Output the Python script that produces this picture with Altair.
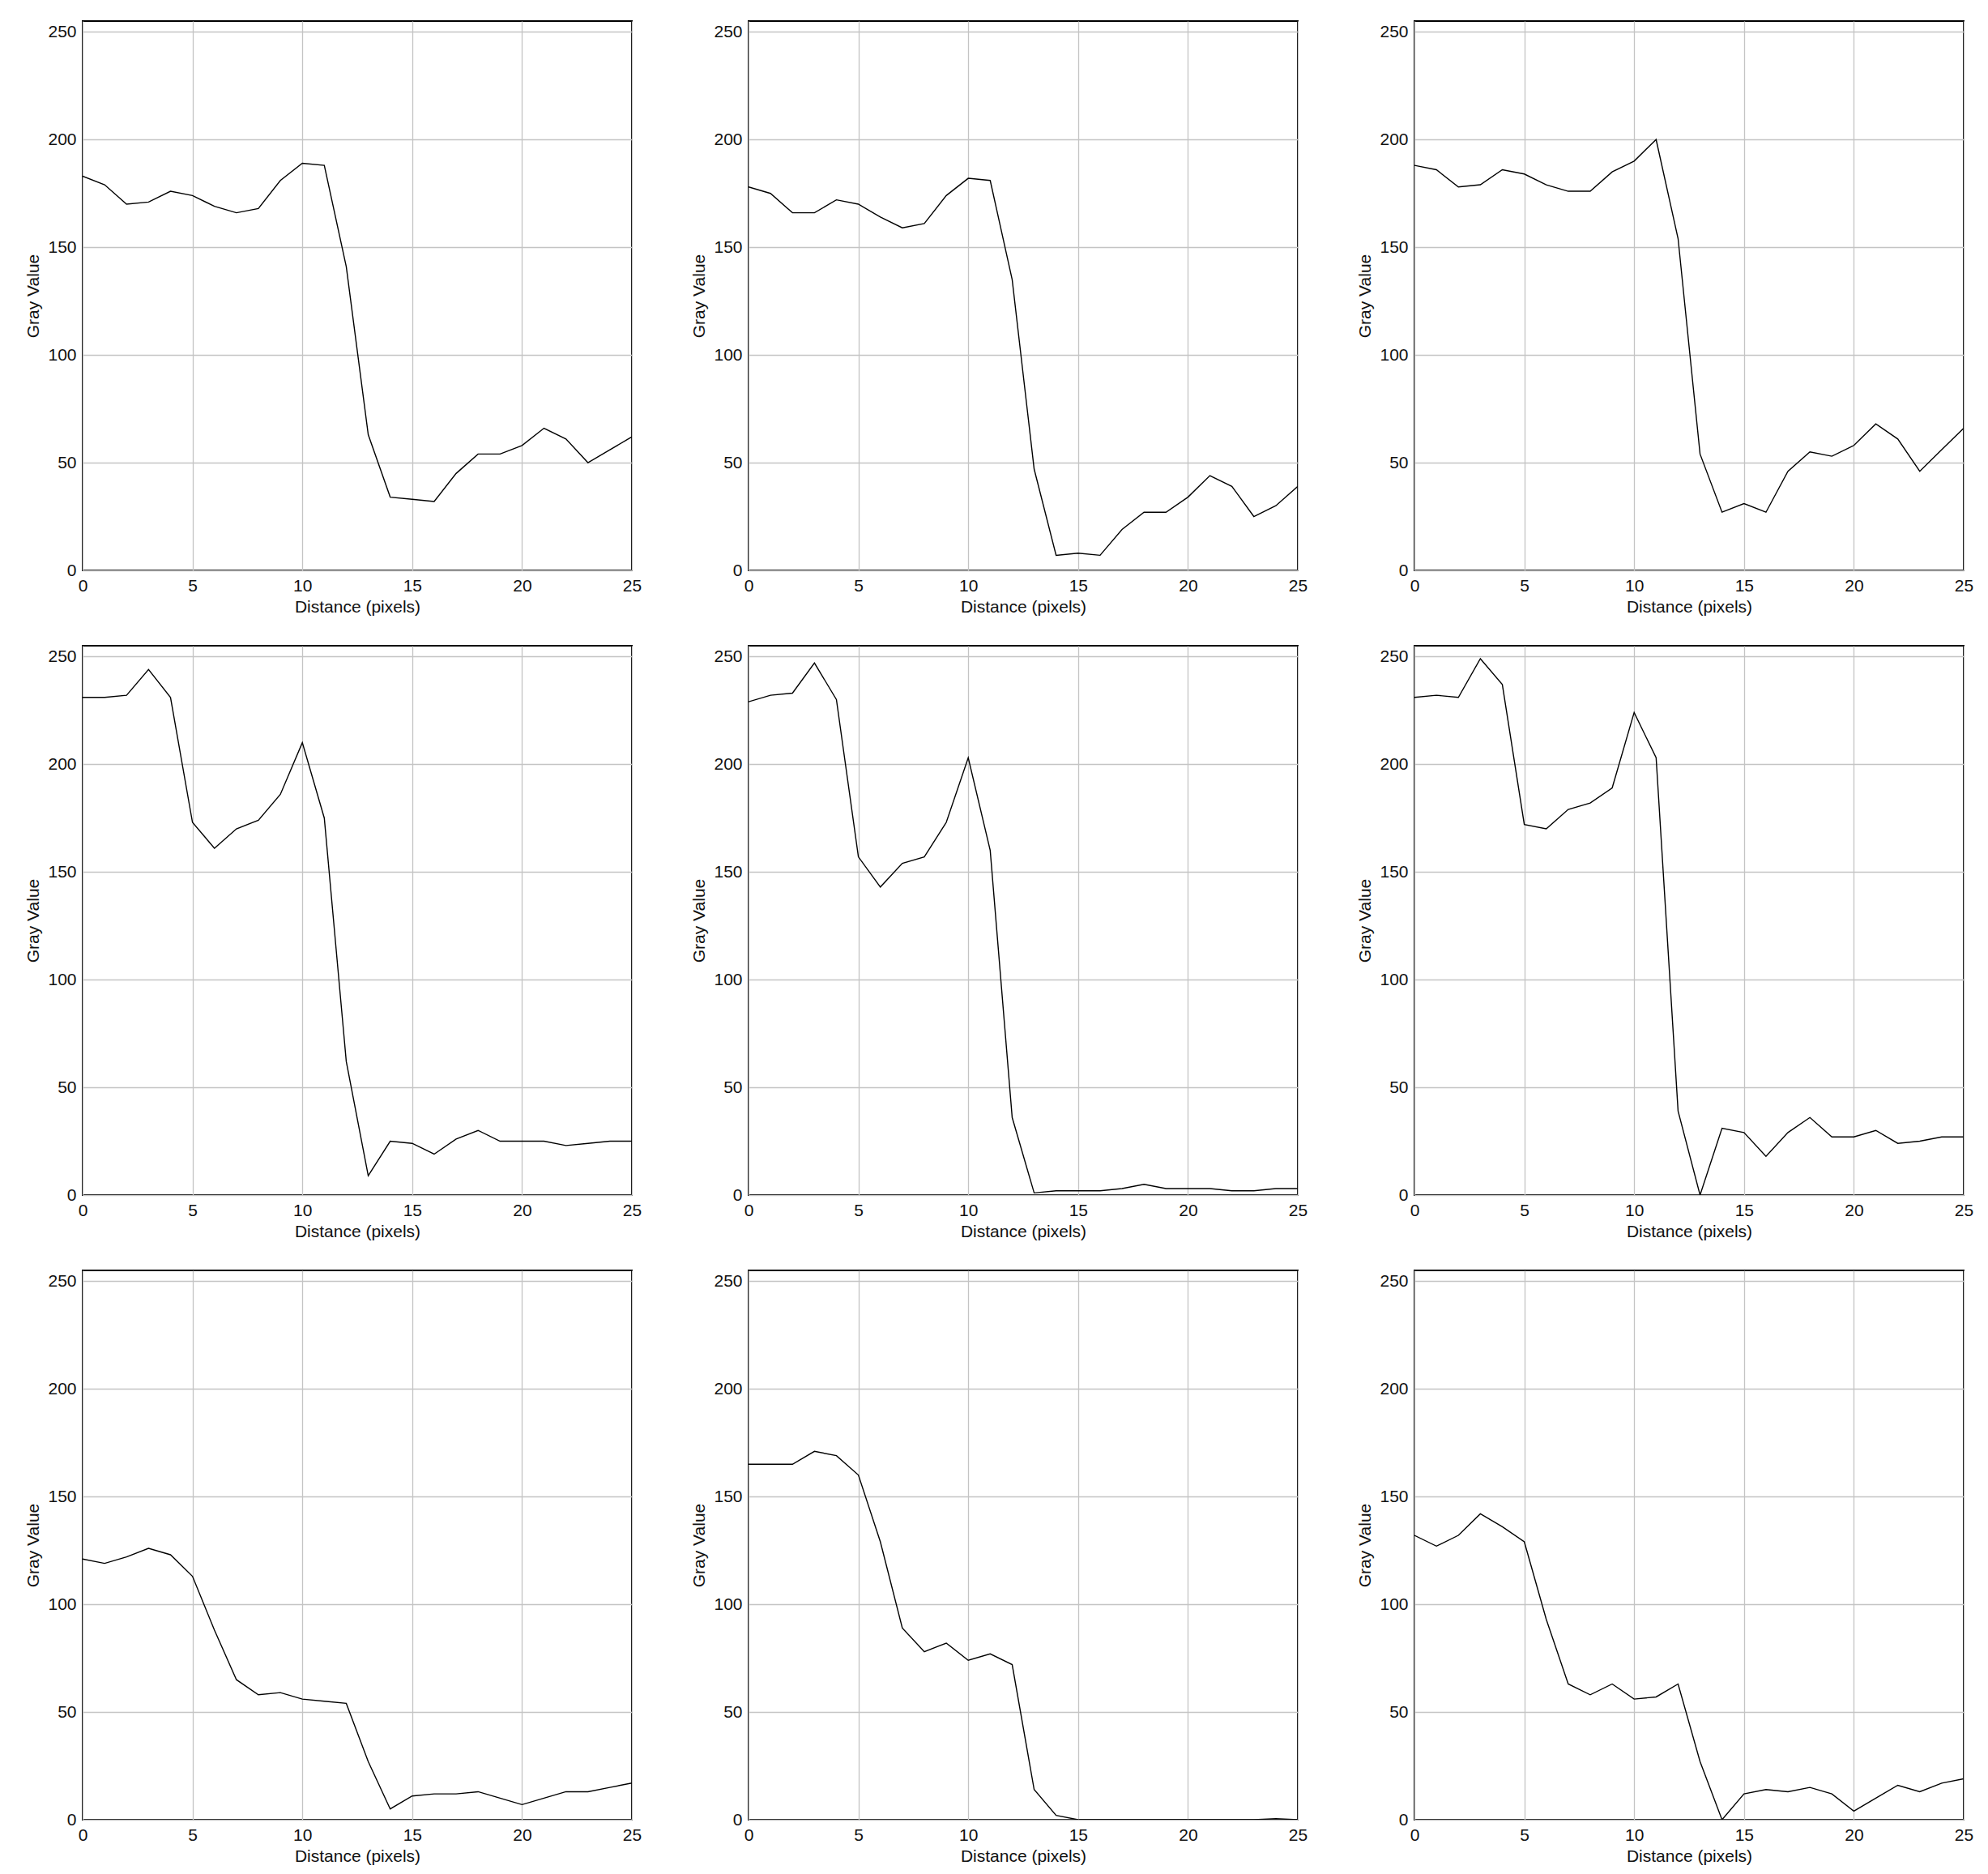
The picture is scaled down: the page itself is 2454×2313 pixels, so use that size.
import altair as alt
import pandas as pd

distance = list(range(26))

p1 = [183, 179, 170, 171, 176, 174, 169, 166, 168, 181, 189, 188, 141, 63, 34, 33, 32, 45, 54, 54, 58, 66, 61, 50, 56, 62]
p2 = [178, 175, 166, 166, 172, 170, 164, 159, 161, 174, 182, 181, 135, 47, 7, 8, 7, 19, 27, 27, 34, 44, 39, 25, 30, 39]
p3 = [188, 186, 178, 179, 186, 184, 179, 176, 176, 185, 190, 200, 154, 54, 27, 31, 27, 46, 55, 53, 58, 68, 61, 46, 56, 66]
p4 = [231, 231, 232, 244, 231, 173, 161, 170, 174, 186, 210, 175, 62, 9, 25, 24, 19, 26, 30, 25, 25, 25, 23, 24, 25, 25]
p5 = [229, 232, 233, 247, 230, 157, 143, 154, 157, 173, 203, 160, 36, 1, 2, 2, 2, 3, 5, 3, 3, 3, 2, 2, 3, 3]
p6 = [231, 232, 231, 249, 237, 172, 170, 179, 182, 189, 224, 203, 39, 0, 31, 29, 18, 29, 36, 27, 27, 30, 24, 25, 27, 27]
p7 = [121, 119, 122, 126, 123, 113, 88, 65, 58, 59, 56, 55, 54, 27, 5, 11, 12, 12, 13, 10, 7, 10, 13, 13, 15, 17]
p8 = [165, 165, 165, 171, 169, 160, 129, 89, 78, 82, 74, 77, 72, 14, 2, 0, 0, 0, 0, 0, 0, 0, 0, 0, 0.5, 0]
p9 = [132, 127, 132, 142, 136, 129, 93, 63, 58, 63, 56, 57, 63, 27, 0, 12, 14, 13, 15, 12, 4, 10, 16, 13, 17, 19]

profiles = [p1, p2, p3, p4, p5, p6, p7, p8, p9]

x_ticks = [0, 5, 10, 15, 20, 25]
y_ticks = [0, 50, 100, 150, 200, 250]

rows = []
for i, prof in enumerate(profiles):
    for d, v in zip(distance, prof):
        rows.append({"panel": i, "x": d, "y": v})
df = pd.DataFrame(rows)


def panel(i):
    return (
        alt.Chart(df[df.panel == i])
        .mark_line(color="black", strokeWidth=1.4, clip=True)
        .encode(
            x=alt.X(
                "x:Q",
                scale=alt.Scale(domain=[0, 25], nice=False, zero=False),
                axis=alt.Axis(values=x_ticks, title="Distance (pixels)", format="d"),
            ),
            y=alt.Y(
                "y:Q",
                scale=alt.Scale(domain=[0, 255], nice=False),
                axis=alt.Axis(values=y_ticks, title="Gray Value", format="d", titlePadding=7),
            ),
        )
        .properties(width=678, height=678)
    )


rows_charts = [
    alt.hconcat(*[panel(r * 3 + c) for c in range(3)], spacing=58)
    for r in range(3)
]

chart = (
    alt.vconcat(*rows_charts, spacing=36)
    .properties(padding={"left": 21, "top": 17, "right": 5, "bottom": 5}, background="white")
    .configure_axis(
        labelFont="Liberation Sans",
        titleFont="Liberation Sans",
        labelFontSize=21,
        titleFontSize=21,
        titleFontWeight="normal",
        labelColor="#111111",
        titleColor="#111111",
        grid=True,
        gridColor="#c4c4c4",
        gridWidth=1.3,
        ticks=False,
        domain=False,
        labelFlush=False,
        labelPadding=8,
        titlePadding=5,
    )
    .configure_view(stroke="black", strokeWidth=2)
)

chart.save("out.html", embed_options={"renderer": "svg", "actions": False})
